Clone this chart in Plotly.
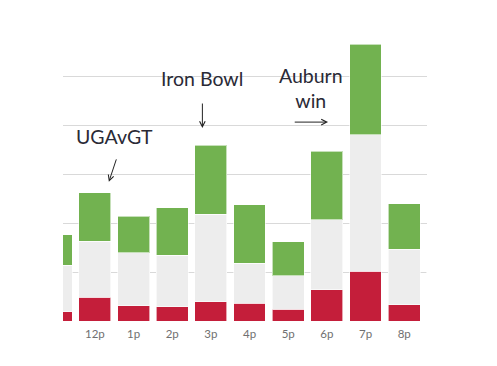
import plotly.graph_objects as go

hours = ["11a", "12p", "1p", "2p", "3p", "4p", "5p", "6p", "7p", "8p", "9p"]
red_vals = [1.9, 4.8, 3.1, 2.9, 3.9, 3.6, 2.4, 6.4, 10.2, 3.3, 2.7]
gray_vals = [9.5, 11.5, 10.8, 10.5, 17.9, 8.2, 6.8, 14.3, 27.8, 11.3, 7.0]
green_vals = [6.2, 9.9, 7.5, 9.7, 14.1, 11.9, 7.0, 13.9, 18.5, 9.3, 6.0]

fig = go.Figure()
line = dict(width=1, color="rgba(255,255,255,0.6)")
fig.add_bar(x=hours, y=red_vals, marker=dict(color="#C41E3A", line=line))
fig.add_bar(x=hours, y=gray_vals, marker=dict(color="#EDEDED", line=line))
fig.add_bar(x=hours, y=green_vals, marker=dict(color="#72B250", line=line))

txt_font = dict(family="Lato", size=19.5, color="#2a2a36")
annos = [
    dict(text="UGAvGT", x=1.515, y=37.6),
    dict(text="Iron Bowl", x=3.78, y=49.4),
    dict(text="Auburn<br>win", x=6.59, y=47.5),
]
annotations = [dict(xref="x", yref="y", showarrow=False, font=txt_font,
                    xanchor="center", yanchor="middle", **a) for a in annos]
arrows = [
    dict(ax=1.567, ay=33.3, x=1.361, y=28.4),
    dict(ax=3.78, ay=44.7, x=3.78, y=39.4),
    dict(ax=6.13, ay=40.6, x=7.03, y=40.6),
]
for a in arrows:
    annotations.append(dict(xref="x", yref="y", axref="x", ayref="y", text="",
                            showarrow=True, arrowhead=5, arrowsize=1.1,
                            arrowwidth=1, arrowcolor="#222", **a))

fig.update_layout(
    barmode="stack",
    bargap=0.175,
    showlegend=False,
    width=497, height=366,
    margin=dict(l=55, r=78, t=22, b=53),
    paper_bgcolor="white", plot_bgcolor="white",
    font=dict(family="Lato"),
    annotations=annotations,
    xaxis=dict(range=[0.175, 9.59], showgrid=False, zeroline=False,
               showline=False, ticks="", ticklabelstandoff=4,
               tickfont=dict(size=11.5, color="#707070")),
    yaxis=dict(range=[0, 59.4], tickvals=[10, 20, 30, 40, 50],
               showticklabels=False, showgrid=True, gridcolor="#d9d9d9",
               gridwidth=1, zeroline=False, showline=False),
)
fig.write_html("out.html")
